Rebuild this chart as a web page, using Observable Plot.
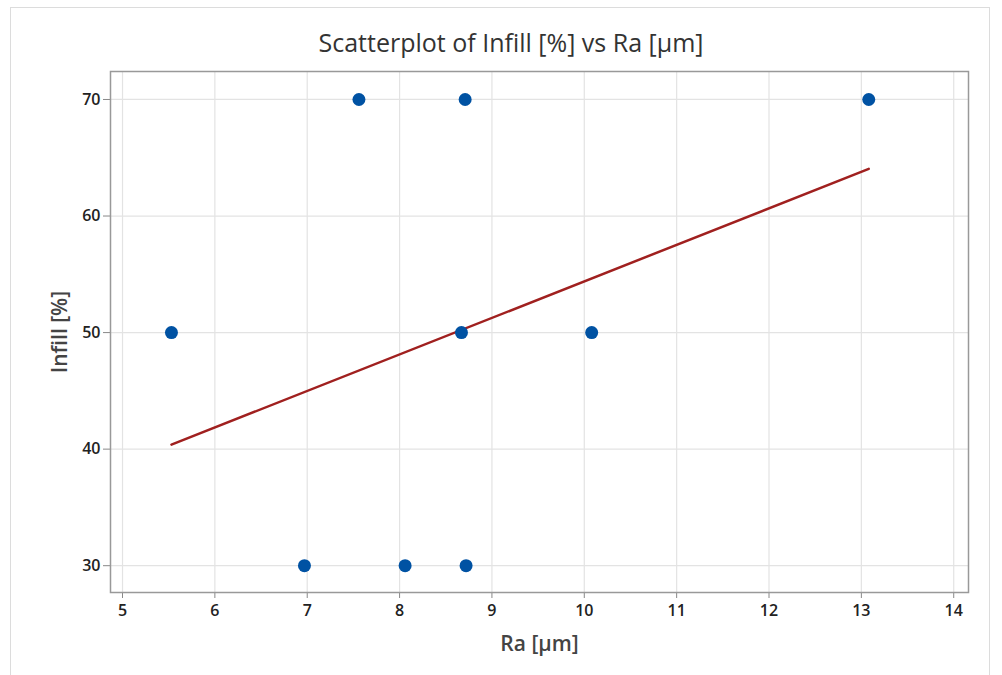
<!DOCTYPE html>
<html>
<head>
<meta charset="utf-8">
<script src="https://cdn.jsdelivr.net/npm/d3@7"></script>
<script src="https://cdn.jsdelivr.net/npm/@observablehq/plot@0.6"></script>
<style>
  html, body { margin: 0; padding: 0; background: #fff; }
  #panel { position: absolute; left: 10px; top: 7px; width: 980px; height: 720px; border: 1px solid #dcdcdc; box-sizing: border-box; }
  #wrap { position: absolute; left: 0; top: 0; width: 1002px; }
  #title { height: 60px; padding-top: 20px; line-height: 44px; text-align: center; font-family: "Open Sans", "Noto Sans", sans-serif; font-size: 25px; color: #333; padding-left: 20px; box-sizing: border-box; overflow: visible; }
</style>
</head>
<body>
<div id="panel"></div>
<div id="wrap">
  <div id="title">Scatterplot of Infill [%] vs Ra [µm]</div>
  <div id="chart"></div>
</div>
<script>
const ra = [5.53, 6.97, 7.56, 8.06, 8.67, 8.71, 8.72, 10.08, 13.08];
const infill = [50, 30, 70, 30, 50, 70, 30, 50, 70];
const xTicks = [5, 6, 7, 8, 9, 10, 11, 12, 13, 14];
const yTicks = [30, 40, 50, 60, 70];

const data = ra.map((r, i) => ({ra: r, infill: infill[i]}));

const chart = Plot.plot({
  width: 1002,
  height: 615,
  marginTop: 11,
  marginBottom: 83,
  marginLeft: 110,
  marginRight: 34,
  style: { fontFamily: "'Open Sans', 'Noto Sans', sans-serif", color: "#222", background: "transparent" },
  x: { domain: [4.87, 14.16] },
  y: { domain: [27.7, 72.4] },
  marks: [
    Plot.gridX(xTicks, { stroke: "#e3e3e3", strokeOpacity: 1, strokeWidth: 1.2 }),
    Plot.gridY(yTicks, { stroke: "#e3e3e3", strokeOpacity: 1, strokeWidth: 1.2 }),
    Plot.axisX(xTicks, { tickSize: 6, tickPadding: 6, fontSize: 16, fontWeight: 600, stroke: "#888", fill: "#222",
      label: "Ra [µm]", labelAnchor: "center", labelArrow: "none", labelOffset: 58 }),
    Plot.axisY(yTicks, { tickSize: 7, tickPadding: 3, fontSize: 16, fontWeight: 600, stroke: "#888", fill: "#222",
      label: "Infill [%]", labelAnchor: "center", labelArrow: "none", labelOffset: 58 }),
    Plot.linearRegressionY(data, { x: "ra", y: "infill", stroke: "#a0201f", strokeWidth: 2.5, ci: 0 }),
    Plot.dot(data, { x: "ra", y: "infill", r: 6.5, fill: "#0052a3", stroke: "none" }),
    Plot.frame({ stroke: "#999", strokeWidth: 1.5 })
  ]
});
document.getElementById("chart").appendChild(chart);
// enlarge axis label text
chart.querySelectorAll("g[aria-label='x-axis label'] text, g[aria-label='y-axis label'] text").forEach(t => {
  t.setAttribute("font-size", "21");
  t.style.fontSize = "21px";
  t.setAttribute("fill", "#444");
  t.setAttribute("font-weight", "600");
});
</script>
</body>
</html>
